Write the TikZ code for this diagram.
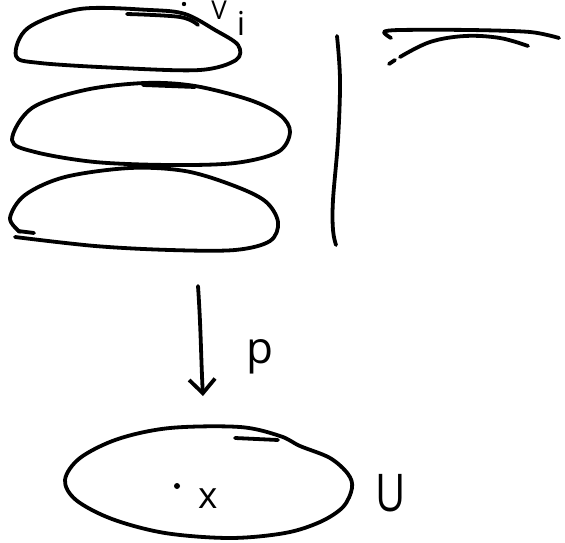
\documentclass[tikz,border=0pt]{standalone}
\usepackage{fontspec}
\setmainfont{Open Sans}
\usetikzlibrary{arrows.meta}
\begin{document}
\begin{tikzpicture}[x=1pt,y=-1pt,
  ink/.style={line width=3.8pt,line cap=round,line join=round,black},
  blob/.style={ink},
  lbl/.style={inner sep=0pt,outer sep=0pt,text=black},
  maparrow/.style={ink,-{Straight Barb[length=14pt,width=26pt,line width=3.8pt]}}]
\useasboundingbox (0,0) rectangle (565,543);
% top sheet
\draw[blob] plot[smooth cycle,tension=0.55] coordinates {(16,56) (28,28) (80,9) (150,10) (185,14) (215,30) (238,45) (236,60) (200,70) (120,68) (40,63)};
\draw[ink] plot[smooth,tension=0.6] coordinates {(127,14) (180,17) (198,25)};
% middle sheet
\draw[blob] plot[smooth cycle,tension=0.55] coordinates {(12,140) (32,108) (85,90) (145,83) (195,86) (250,100) (280,115) (290,132) (278,152) (235,163) (170,165) (95,162) (35,152)};
\draw[ink] (143,85) -- (195,87);
% bottom sheet
\draw[blob] plot[smooth,tension=0.55] coordinates {(20,232) (10,218) (25,195) (65,177) (130,168) (185,171) (232,185) (265,201) (278,222) (270,241) (235,250) (170,250) (95,246) (15,237)};
\draw[ink] (18,231) -- (34,233);
% vertical bar
\draw[ink] plot[smooth,tension=0.6] coordinates {(337,36) (340,80) (338,140) (333,200) (333,230) (336,245)};
% top right strokes
\draw[ink] plot[smooth,tension=0.5] coordinates {(391,38) (384,32) (400,30) (470,30) (530,32) (559,38)};
\draw[ink] (389,64) -- (395,60);
\draw[ink] plot[smooth,tension=0.6] coordinates {(400,57) (430,42) (465,36) (500,38) (528,46)};
% V_i label
\fill (184,4) circle (2.2pt);
\node[lbl,font=\fontsize{26}{26}\selectfont] (V) at (219,10.5) {V};
\node[lbl,font=\fontsize{33}{33}\selectfont] (i) at (241,23) {i};
% projection arrow
\coordinate (ptop) at (198,286);
\coordinate (pbot) at (203,396);
\draw[maparrow] (ptop) .. controls (201,330) and (201,360) .. (pbot);
\node[lbl,font=\fontsize{44}{44}\selectfont] (p) at (260,357) {p};
% base U
\draw[blob] plot[smooth cycle,tension=0.55] coordinates {(170,428) (240,427) (280,436) (300,446) (330,458) (348,474) (352,488) (343,507) (320,522) (285,533) (230,538) (165,533) (112,519) (76,500) (65,480) (80,458) (118,439)};
\draw[ink] (235,438) -- (278,440);
\fill (177,486) circle (3pt);
\node[lbl,font=\fontsize{37}{37}\selectfont] (x) at (208,499) {x};
\node[lbl,font=\fontsize{52}{52}\selectfont,xscale=0.8] (U) at (391,493) {U};
\end{tikzpicture}
\end{document}
